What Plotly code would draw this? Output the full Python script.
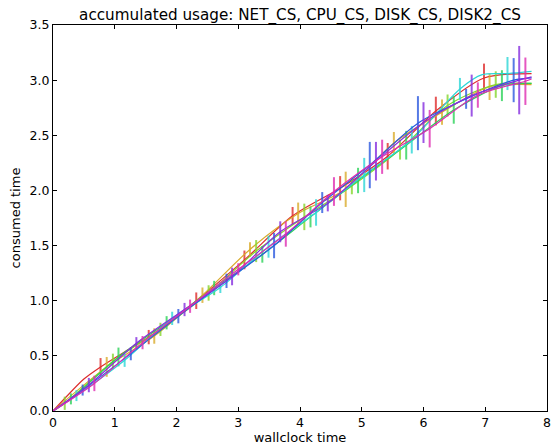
import plotly.graph_objects as go

# Accumulated consumed time per run: sample times, consumed time and error half-widths.
# A trailing error of 0 marks points that carry no error bar.
names = ["run0", "run1", "run2", "run3", "run4", "run5", "run6", "run7"]
colors = ["#de2c2c", "#d9ab2c", "#85d62c", "#2cd259", "#2cd6d6", "#2c59de", "#852cde", "#de2cb1"]

red_x = [0.0, 0.2, 0.5, 0.77, 1.2, 1.55, 2.32, 3.10, 3.88, 4.65, 5.42, 6.20, 6.98, 7.75]
red_y = [0.0, 0.12, 0.29, 0.40, 0.55, 0.67, 1.00, 1.37, 1.77, 2.02, 2.31, 2.72, 3.02, 3.06]
red_e = [0, 0, 0, 0.08, 0, 0.065, 0.075, 0.085, 0.08, 0.11, 0.12, 0.13, 0.13, 0]

orange_x = [0.0, 0.87, 1.64, 2.42, 3.19, 3.97, 4.74, 5.52, 6.30, 7.07, 7.75]
orange_y = [0.0, 0.40, 0.68, 1.05, 1.465, 1.79, 2.01, 2.43, 2.71, 2.94, 2.96]
orange_e = [0, 0.09, 0.07, 0.07, 0.065, 0.10, 0.16, 0.10, 0.115, 0.12, 0]

yg_x = [0.0, 0.19, 0.97, 1.74, 2.52, 3.29, 4.07, 4.84, 5.62, 6.39, 7.17, 7.75]
yg_y = [0.0, 0.07, 0.45, 0.74, 1.07, 1.45, 1.76, 2.04, 2.37, 2.77, 2.96, 2.97]
yg_e = [0, 0.06, 0.07, 0.06, 0.07, 0.10, 0.12, 0.075, 0.09, 0.10, 0.12, 0]

green_x = [0.0, 0.29, 1.06, 1.84, 2.61, 3.39, 4.17, 4.94, 5.72, 6.49, 7.27, 7.75]
green_y = [0.0, 0.11, 0.49, 0.80, 1.115, 1.42, 1.76, 2.09, 2.41, 2.73, 2.95, 2.97]
green_e = [0, 0.05, 0.085, 0.06, 0.065, 0.075, 0.095, 0.115, 0.13, 0.125, 0.14, 0]

cyan_x = [0.0, 0.38, 1.16, 1.93, 2.71, 3.49, 4.26, 5.04, 5.81, 6.59, 6.95, 7.36, 7.75]
cyan_y = [0.0, 0.14, 0.46, 0.84, 1.12, 1.49, 1.80, 2.14, 2.46, 2.92, 3.05, 3.06, 3.08]
cyan_e = [0, 0.05, 0.06, 0.06, 0.05, 0.10, 0.12, 0.155, 0.125, 0.10, 0, 0.15, 0]

blue_x = [0.0, 0.48, 1.26, 2.03, 2.81, 3.58, 4.36, 5.13, 5.91, 6.69, 7.46, 7.75]
blue_y = [0.0, 0.19, 0.52, 0.86, 1.18, 1.50, 1.89, 2.23, 2.61, 2.83, 3.00, 3.02]
blue_e = [0, 0.05, 0.06, 0.065, 0.065, 0.115, 0.095, 0.21, 0.245, 0.09, 0.20, 0]

purple_x = [0.0, 0.58, 1.35, 2.13, 2.90, 3.68, 4.45, 5.23, 6.00, 6.78, 7.55, 7.75]
purple_y = [0.0, 0.235, 0.615, 0.92, 1.22, 1.625, 1.885, 2.265, 2.615, 2.86, 3.00, 3.03]
purple_e = [0, 0.065, 0.055, 0.06, 0.08, 0.095, 0.075, 0.175, 0.185, 0.19, 0.31, 0]

magenta_x = [0.0, 0.67, 1.45, 2.22, 3.00, 3.77, 4.55, 5.33, 6.10, 6.88, 7.65, 7.75]
magenta_y = [0.0, 0.25, 0.62, 0.95, 1.285, 1.605, 1.99, 2.305, 2.56, 2.865, 2.99, 3.01]
magenta_e = [0, 0.07, 0.06, 0.06, 0.055, 0.115, 0.13, 0.155, 0.17, 0.115, 0.215, 0]

runs = [
    (red_x, red_y, red_e),
    (orange_x, orange_y, orange_e),
    (yg_x, yg_y, yg_e),
    (green_x, green_y, green_e),
    (cyan_x, cyan_y, cyan_e),
    (blue_x, blue_y, blue_e),
    (purple_x, purple_y, purple_e),
    (magenta_x, magenta_y, magenta_e),
]

x_ticks = [0, 1, 2, 3, 4, 5, 6, 7, 8]
y_ticks = [0.0, 0.5, 1.0, 1.5, 2.0, 2.5, 3.0, 3.5]


def rgba(hex_color, alpha):
    h = hex_color.lstrip("#")
    r, g, b = (int(h[i:i + 2], 16) for i in (0, 2, 4))
    return f"rgba({r},{g},{b},{alpha})"


fig = go.Figure()
for name, color, (xs, ys, es) in zip(names, colors, runs):
    fig.add_trace(go.Scatter(
        x=xs, y=ys, name=name, mode="lines",
        line=dict(color=color, width=1.2, shape="spline", smoothing=0.8),
        error_y=dict(type="data", array=es, visible=True,
                     color=rgba(color, 0.8), thickness=2, width=0),
        showlegend=False,
    ))

font = "DejaVu Sans, Liberation Sans, sans-serif"
axis_common = dict(
    showline=True, linecolor="black", linewidth=1, mirror="allticks",
    ticks="inside", ticklen=4, tickwidth=1, tickcolor="black",
    showgrid=False, zeroline=False,
    tickfont=dict(family=font, size=12.5, color="black"),
)

fig.update_layout(
    width=557, height=448,
    margin=dict(l=53, r=6, t=25, b=37),
    paper_bgcolor="white", plot_bgcolor="white",
    title=dict(text="accumulated usage: NET_CS, CPU_CS, DISK_CS, DISK2_CS",
               x=0.5, xref="paper", y=1, yref="paper", yanchor="bottom",
               pad=dict(b=5),
               font=dict(family=font, size=15.2, color="black")),
    xaxis=dict(range=[0, 8], tickvals=x_ticks, ticktext=[str(v) for v in x_ticks],
               title=dict(text="wallclock time", standoff=2,
                          font=dict(family=font, size=13, color="black")),
               **axis_common),
    yaxis=dict(range=[0, 3.5], tickvals=y_ticks, ticktext=[f"{v:.1f}" for v in y_ticks],
               title=dict(text="consumed time", standoff=6,
                          font=dict(family=font, size=13, color="black")),
               **axis_common),
)

fig.write_html("out.html")
